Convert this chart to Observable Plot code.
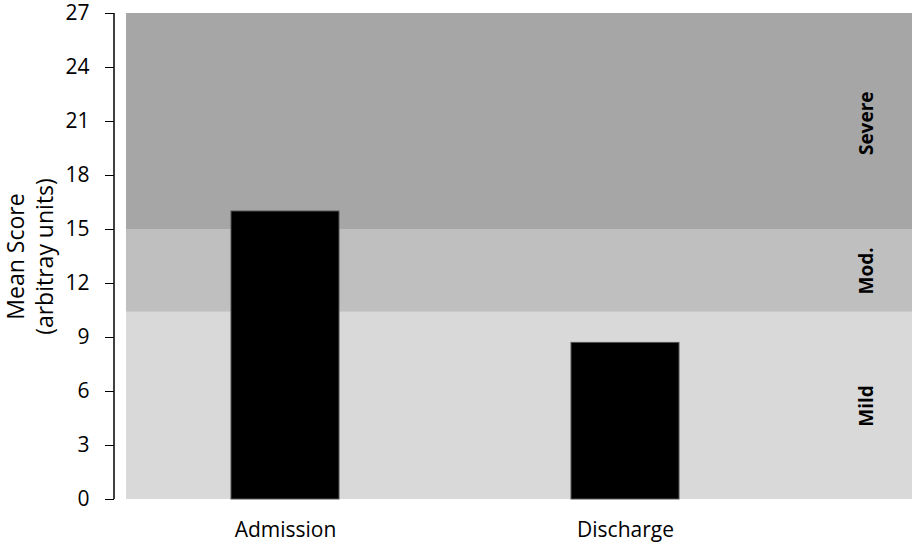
<!DOCTYPE html>
<html>
<head>
<meta charset="utf-8">
<script src="https://cdn.jsdelivr.net/npm/d3@7"></script>
<script src="https://cdn.jsdelivr.net/npm/@observablehq/plot@0.6"></script>
<style>
  html, body { margin: 0; padding: 0; background: #fff; }
</style>
</head>
<body>
<div id="chart"></div>
<script>
const categories = ["Admission", "Discharge"];
const meanScores = [16.0, 8.7];

const bandNames = ["Mild", "Mod.", "Severe"];
const bandLow = [0, 10.4, 15];
const bandHigh = [10.4, 15, 27];
const bandColors = ["#d9d9d9", "#bfbfbf", "#a6a6a6"];
const bandLabelY = [5.2, 12.7, 20.9];

const yTicks = [0, 3, 6, 9, 12, 15, 18, 21, 24, 27];
const yLabel = "Mean Score\n(arbitray units)";

const bars = categories.map((c, i) => ({category: c, value: meanScores[i]}));
const bands = bandNames.map((n, i) => ({name: n, y1: bandLow[i], y2: bandHigh[i], fill: bandColors[i], ly: bandLabelY[i]}));

const font = "'Open Sans', sans-serif";

const chart = Plot.plot({
  width: 912,
  height: 547,
  marginLeft: 114,
  marginRight: 0,
  marginTop: 13,
  marginBottom: 48,
  style: {fontFamily: font, fontSize: "21px", color: "#000", background: "#fff", overflow: "visible"},
  x: {domain: categories, range: [114, 795], paddingInner: 0.683, paddingOuter: 0.3415, align: 0.5},
  y: {domain: [0, 27]},
  marks: [
    Plot.rect(bands, {y1: "y1", y2: "y2", fill: d => d.fill, insetLeft: 12}),
    Plot.barY(bars, {x: "category", y: "value", fill: "#000", stroke: "#555", strokeWidth: 1}),
    Plot.text(bands, {y: "ly", text: "name", frameAnchor: "right", textAnchor: "middle", dx: -46, rotate: -90, fontWeight: "bold", fontSize: 19, fill: "#000"}),
    Plot.axisY({ticks: yTicks, tickSize: 9, tickPadding: 16, label: null, tickFormat: d => String(d), fontSize: 21}),
    Plot.axisX({tickSize: 0, tickPadding: 23, label: null, fontSize: 21}),
    Plot.text([yLabel], {frameAnchor: "left", textAnchor: "middle", dx: -85, rotate: -90, fontSize: 23, lineHeight: 1.26, fill: "#000"})
  ]
});

const svg = d3.select(chart);
svg.append("line")
  .attr("x1", 114).attr("x2", 114)
  .attr("y1", 13).attr("y2", 499)
  .attr("stroke", "#000").attr("stroke-width", 1.5);

document.getElementById("chart").appendChild(chart);
</script>
</body>
</html>
